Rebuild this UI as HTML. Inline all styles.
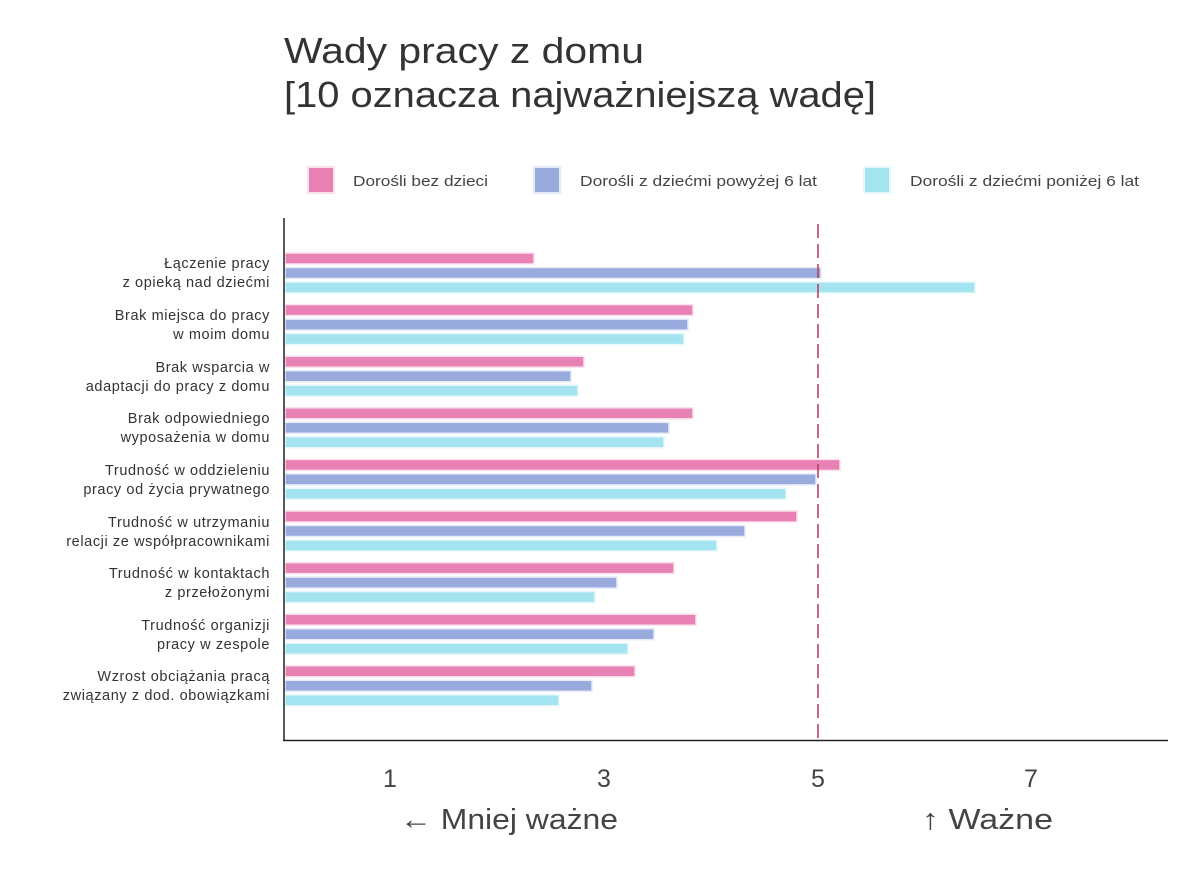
<!DOCTYPE html><html><head><meta charset="utf-8"><style>
body{margin:0;background:#fff;font-family:"Liberation Sans",sans-serif;}
</style></head><body>
<svg width="1200" height="873" xmlns="http://www.w3.org/2000/svg" font-family="Liberation Sans, sans-serif">
<text x="284" y="63" font-size="36" fill="#333" textLength="360" lengthAdjust="spacingAndGlyphs">Wady pracy z domu</text>
<text x="284" y="107" font-size="36" fill="#333" textLength="592" lengthAdjust="spacingAndGlyphs">[10 oznacza najważniejszą wadę]</text>
<g font-size="15" fill="#444">
<rect x="308" y="167" width="26" height="26" fill="#e882b4" stroke="#fbe0ee" stroke-width="2"/><text x="353" y="186" textLength="135" lengthAdjust="spacingAndGlyphs">Dorośli bez dzieci</text>
<rect x="534" y="167" width="26" height="26" fill="#99abdd" stroke="#e6ebf8" stroke-width="2"/><text x="580" y="186" textLength="237" lengthAdjust="spacingAndGlyphs">Dorośli z dziećmi powyżej 6 lat</text>
<rect x="864" y="167" width="26" height="26" fill="#a3e4f0" stroke="#e6f8fb" stroke-width="2"/><text x="910" y="186" textLength="229" lengthAdjust="spacingAndGlyphs">Dorośli z dziećmi poniżej 6 lat</text>
</g>
<g id="bars"></g>
<line x1="818" y1="224" x2="818" y2="740" stroke="#b8365a" stroke-width="1.5" stroke-dasharray="14,6"/>
<line x1="284" y1="218" x2="284" y2="741" stroke="#222" stroke-width="1.5"/>
<line x1="283" y1="740.5" x2="1168" y2="740.5" stroke="#222" stroke-width="1.5"/>
<g font-size="25" fill="#444" text-anchor="middle">
<text x="390" y="787">1</text><text x="604" y="787">3</text><text x="818" y="787">5</text><text x="1031" y="787">7</text>
</g>
<g font-size="29" fill="#444">
<text x="400" y="829" textLength="218" lengthAdjust="spacingAndGlyphs">← Mniej ważne</text><text x="922" y="829" textLength="131" lengthAdjust="spacingAndGlyphs">↑ Ważne</text>
</g>
<g font-size="14.5" fill="#333" text-anchor="end" letter-spacing="0.6">
<text x="270" y="268">Łączenie pracy</text><text x="270" y="287">z opieką nad dziećmi</text>
<text x="270" y="320">Brak miejsca do pracy</text><text x="270" y="339">w moim domu</text>
<text x="270" y="372">Brak wsparcia w </text><text x="270" y="391">adaptacji do pracy z domu </text>
<text x="270" y="423">Brak odpowiedniego</text><text x="270" y="442">wyposażenia w domu</text>
<text x="270" y="475">Trudność w oddzieleniu</text><text x="270" y="494">pracy od życia prywatnego</text>
<text x="270" y="527">Trudność w utrzymaniu</text><text x="270" y="546">relacji ze współpracownikami</text>
<text x="270" y="578">Trudność w kontaktach</text><text x="270" y="597">z przełożonymi</text>
<text x="270" y="630">Trudność organizji</text><text x="270" y="649">pracy w zespole</text>
<text x="270" y="681">Wzrost obciążania pracą</text><text x="270" y="700">związany z dod. obowiązkami</text>
</g>
</svg>
<script>
var d=[[534,821,975],[693,688,684],[584,571,578],[693,669,664],[840,816,786],[797,745,717],[674,617,595],[696,654,628],[635,592,559]];
var c=["#e882b4","#99abdd","#a3e4f0"],s=["#fbe0ee","#e6ebf8","#e6f8fb"],g=document.getElementById("bars"),h="";
d.forEach(function(r,i){var t=253+i*51.6;r.forEach(function(x,j){h+='<rect x="285" y="'+(t+j*14.5)+'" width="'+(x-285)+'" height="11" fill="'+c[j]+'" stroke="'+s[j]+'" stroke-width="1.5"/>';});});
g.innerHTML=h;
</script>
</body></html>
